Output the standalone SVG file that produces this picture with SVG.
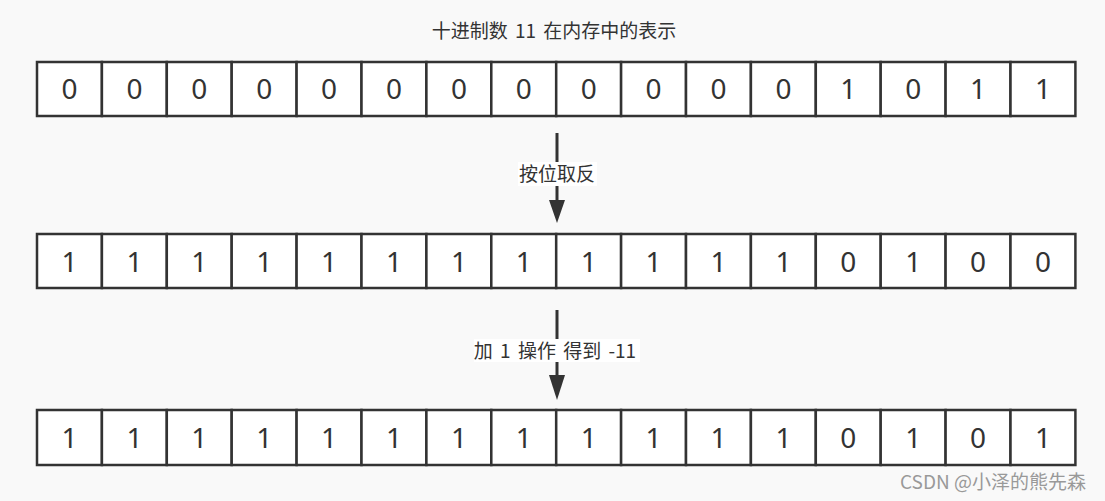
<svg xmlns="http://www.w3.org/2000/svg" width="1105" height="501" viewBox="0 0 1105 501">
<defs>
<style>
.cell{fill:#fff;stroke:#333;stroke-width:2.5}
.d{font-family:"Noto Sans","Open Sans",sans-serif;font-size:28px;fill:#333;text-anchor:middle}
.t{font-family:"Noto Sans CJK SC",sans-serif;font-size:19px;fill:#333;text-anchor:middle}
.conn{stroke:#333;stroke-width:3;fill:none}
.head{fill:#333}
</style>
</defs>
<rect width="1105" height="501" fill="#f9f9f9"/>
<text class="t" x="554" y="38" word-spacing="3">十进制数 11 在内存中的表示</text>
<g id="row1">
<rect class="cell" x="37" y="62" width="64.9" height="54"/><text class="d" x="69.5" y="99">0</text>
<rect class="cell" x="101.9" y="62" width="64.9" height="54"/><text class="d" x="134.4" y="99">0</text>
<rect class="cell" x="166.8" y="62" width="64.9" height="54"/><text class="d" x="199.3" y="99">0</text>
<rect class="cell" x="231.7" y="62" width="64.9" height="54"/><text class="d" x="264.2" y="99">0</text>
<rect class="cell" x="296.6" y="62" width="64.9" height="54"/><text class="d" x="329.1" y="99">0</text>
<rect class="cell" x="361.5" y="62" width="64.9" height="54"/><text class="d" x="394" y="99">0</text>
<rect class="cell" x="426.4" y="62" width="64.9" height="54"/><text class="d" x="458.9" y="99">0</text>
<rect class="cell" x="491.3" y="62" width="64.9" height="54"/><text class="d" x="523.8" y="99">0</text>
<rect class="cell" x="556.2" y="62" width="64.9" height="54"/><text class="d" x="588.7" y="99">0</text>
<rect class="cell" x="621.1" y="62" width="64.9" height="54"/><text class="d" x="653.6" y="99">0</text>
<rect class="cell" x="686" y="62" width="64.9" height="54"/><text class="d" x="718.5" y="99">0</text>
<rect class="cell" x="750.9" y="62" width="64.9" height="54"/><text class="d" x="783.4" y="99">0</text>
<rect class="cell" x="815.8" y="62" width="64.9" height="54"/><text class="d" x="848.3" y="99">1</text>
<rect class="cell" x="880.7" y="62" width="64.9" height="54"/><text class="d" x="913.2" y="99">0</text>
<rect class="cell" x="945.6" y="62" width="64.9" height="54"/><text class="d" x="978.1" y="99">1</text>
<rect class="cell" x="1010.5" y="62" width="64.9" height="54"/><text class="d" x="1043" y="99">1</text>
</g>
<g id="row2">
<rect class="cell" x="37" y="234" width="64.9" height="54"/><text class="d" x="69.5" y="272">1</text>
<rect class="cell" x="101.9" y="234" width="64.9" height="54"/><text class="d" x="134.4" y="272">1</text>
<rect class="cell" x="166.8" y="234" width="64.9" height="54"/><text class="d" x="199.3" y="272">1</text>
<rect class="cell" x="231.7" y="234" width="64.9" height="54"/><text class="d" x="264.2" y="272">1</text>
<rect class="cell" x="296.6" y="234" width="64.9" height="54"/><text class="d" x="329.1" y="272">1</text>
<rect class="cell" x="361.5" y="234" width="64.9" height="54"/><text class="d" x="394" y="272">1</text>
<rect class="cell" x="426.4" y="234" width="64.9" height="54"/><text class="d" x="458.9" y="272">1</text>
<rect class="cell" x="491.3" y="234" width="64.9" height="54"/><text class="d" x="523.8" y="272">1</text>
<rect class="cell" x="556.2" y="234" width="64.9" height="54"/><text class="d" x="588.7" y="272">1</text>
<rect class="cell" x="621.1" y="234" width="64.9" height="54"/><text class="d" x="653.6" y="272">1</text>
<rect class="cell" x="686" y="234" width="64.9" height="54"/><text class="d" x="718.5" y="272">1</text>
<rect class="cell" x="750.9" y="234" width="64.9" height="54"/><text class="d" x="783.4" y="272">1</text>
<rect class="cell" x="815.8" y="234" width="64.9" height="54"/><text class="d" x="848.3" y="272">0</text>
<rect class="cell" x="880.7" y="234" width="64.9" height="54"/><text class="d" x="913.2" y="272">1</text>
<rect class="cell" x="945.6" y="234" width="64.9" height="54"/><text class="d" x="978.1" y="272">0</text>
<rect class="cell" x="1010.5" y="234" width="64.9" height="54"/><text class="d" x="1043" y="272">0</text>
</g>
<g id="row3">
<rect class="cell" x="37" y="410" width="64.9" height="55"/><text class="d" x="69.5" y="448">1</text>
<rect class="cell" x="101.9" y="410" width="64.9" height="55"/><text class="d" x="134.4" y="448">1</text>
<rect class="cell" x="166.8" y="410" width="64.9" height="55"/><text class="d" x="199.3" y="448">1</text>
<rect class="cell" x="231.7" y="410" width="64.9" height="55"/><text class="d" x="264.2" y="448">1</text>
<rect class="cell" x="296.6" y="410" width="64.9" height="55"/><text class="d" x="329.1" y="448">1</text>
<rect class="cell" x="361.5" y="410" width="64.9" height="55"/><text class="d" x="394" y="448">1</text>
<rect class="cell" x="426.4" y="410" width="64.9" height="55"/><text class="d" x="458.9" y="448">1</text>
<rect class="cell" x="491.3" y="410" width="64.9" height="55"/><text class="d" x="523.8" y="448">1</text>
<rect class="cell" x="556.2" y="410" width="64.9" height="55"/><text class="d" x="588.7" y="448">1</text>
<rect class="cell" x="621.1" y="410" width="64.9" height="55"/><text class="d" x="653.6" y="448">1</text>
<rect class="cell" x="686" y="410" width="64.9" height="55"/><text class="d" x="718.5" y="448">1</text>
<rect class="cell" x="750.9" y="410" width="64.9" height="55"/><text class="d" x="783.4" y="448">1</text>
<rect class="cell" x="815.8" y="410" width="64.9" height="55"/><text class="d" x="848.3" y="448">0</text>
<rect class="cell" x="880.7" y="410" width="64.9" height="55"/><text class="d" x="913.2" y="448">1</text>
<rect class="cell" x="945.6" y="410" width="64.9" height="55"/><text class="d" x="978.1" y="448">0</text>
<rect class="cell" x="1010.5" y="410" width="64.9" height="55"/><text class="d" x="1043" y="448">1</text>
</g>
<g id="connectors">
<line class="conn" x1="557" y1="133" x2="557" y2="202"/>
<polygon class="head" points="549,200 565,200 557,223"/>
<line class="conn" x1="557" y1="310" x2="557" y2="377"/>
<polygon class="head" points="549,375 565,375 557,400"/>
</g>
<g id="label1">
<rect x="518" y="162" width="79" height="24" fill="#fff"/>
<text class="t" x="557" y="181">按位取反</text>
</g>
<g id="label2">
<rect x="474" y="339" width="166" height="23" fill="#fff"/>
<text class="t" x="555" y="358" word-spacing="3">加 1 操作 得到 -11</text>
</g>
<text x="993" y="489" font-family="'Noto Sans CJK SC',sans-serif" font-size="19" fill="#999" text-anchor="middle">CSDN @小泽的熊先森</text>
</svg>
